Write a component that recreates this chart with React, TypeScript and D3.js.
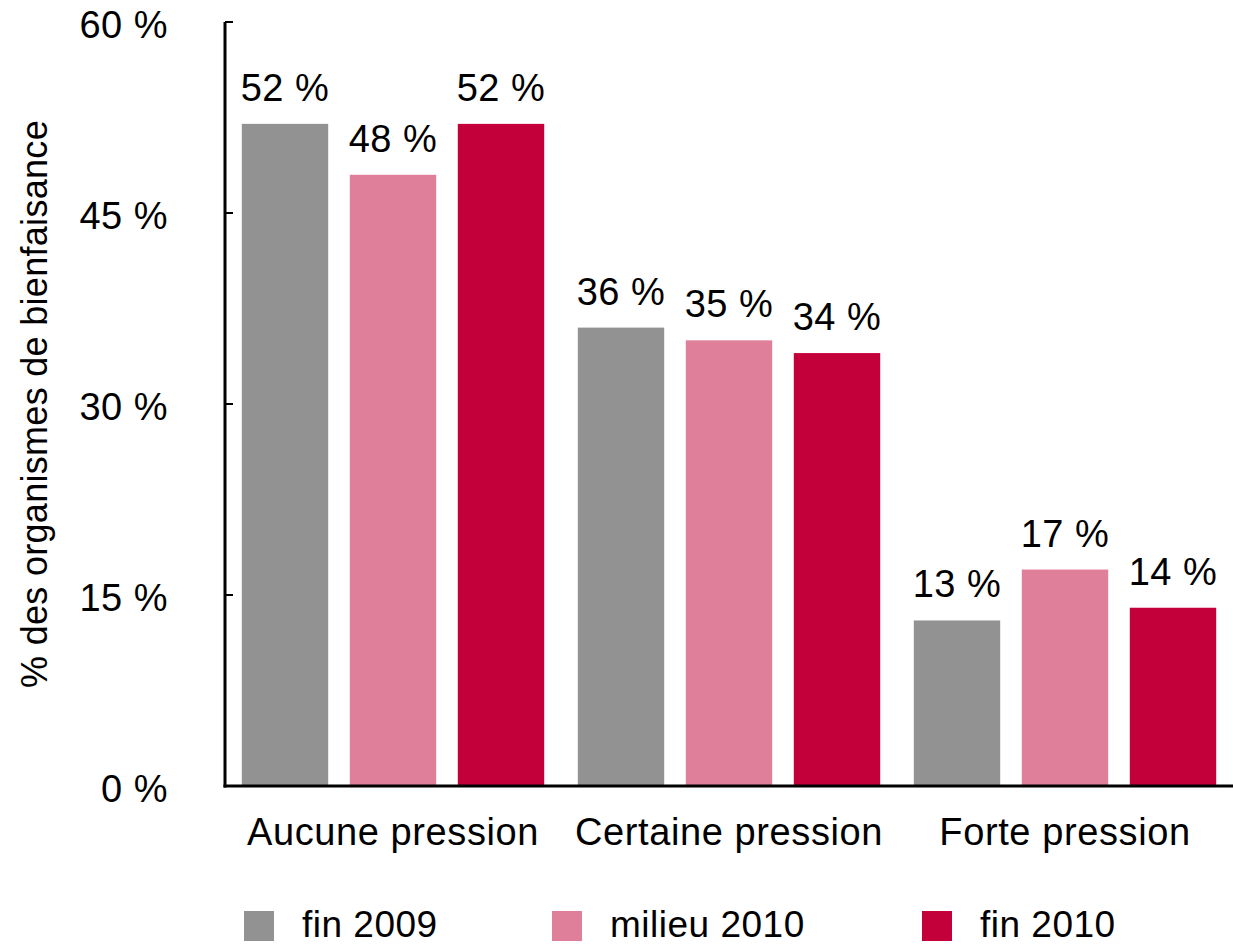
import { useEffect, useRef } from "react"
import * as d3 from "d3"

const categories = ["Aucune pression", "Certaine pression", "Forte pression"]
const seriesNames = ["fin 2009", "milieu 2010", "fin 2010"]
const seriesColors = ["#929292", "#e07f9a", "#c4003b"]
const fin2009 = [52, 36, 13]
const milieu2010 = [48, 35, 17]
const fin2010 = [52, 34, 14]
const yTicks = [0, 15, 30, 45, 60]
const yLabel = "% des organismes de bienfaisance"

const W = 1233
const H = 945
const FONT = "'Liberation Sans', Arial, Helvetica, sans-serif"

export default function App() {
  const ref = useRef<SVGSVGElement>(null)

  useEffect(() => {
    const el = ref.current
    if (!el) return
    const svg = d3.select(el)
    svg.selectAll("*").remove()

    const left = 225
    const right = 1233
    const top = 22
    const bottom = 786
    const values = [fin2009, milieu2010, fin2010]

    const x0 = d3.scaleBand<string>().domain(categories).range([left, right]).paddingInner(0.1).paddingOuter(0.05)
    const x1 = d3.scaleBand<string>().domain(seriesNames).range([0, x0.bandwidth()]).paddingInner(0.2)
    const y = d3.scaleLinear().domain([0, 60]).range([bottom, top])

    const g = svg.append("g").attr("font-family", FONT).attr("fill", "#000")

    // bars + value labels
    categories.forEach((cat, ci) => {
      seriesNames.forEach((s, si) => {
        const v = values[si][ci]
        const bx = (x0(cat) || 0) + (x1(s) || 0)
        g.append("rect")
          .attr("x", bx)
          .attr("y", y(v))
          .attr("width", x1.bandwidth())
          .attr("height", bottom - y(v))
          .attr("fill", seriesColors[si])
        g.append("text")
          .attr("x", bx + x1.bandwidth() / 2)
          .attr("y", y(v) - 23)
          .attr("text-anchor", "middle")
          .attr("font-size", 38)
          .attr("letter-spacing", 0.5)
          .text(`${v} %`)
      })
      g.append("text")
        .attr("x", (x0(cat) || 0) + x0.bandwidth() / 2)
        .attr("y", 845)
        .attr("text-anchor", "middle")
        .attr("font-size", 38)
        .attr("letter-spacing", 0.6)
        .text(cat)
    })

    // axes
    g.append("line")
      .attr("x1", left).attr("x2", left)
      .attr("y1", top).attr("y2", bottom + 1.5)
      .attr("stroke", "#000").attr("stroke-width", 3)
    g.append("line")
      .attr("x1", left - 1.5).attr("x2", right)
      .attr("y1", bottom).attr("y2", bottom)
      .attr("stroke", "#000").attr("stroke-width", 3)

    yTicks.forEach((t) => {
      if (t > 0) {
        g.append("line")
          .attr("x1", left).attr("x2", left + 8)
          .attr("y1", y(t)).attr("y2", y(t))
          .attr("stroke", "#000").attr("stroke-width", 2)
      }
      g.append("text")
        .attr("x", 168)
        .attr("y", y(t) + 16)
        .attr("text-anchor", "end")
        .attr("font-size", 38)
        .attr("letter-spacing", 0.5)
        .text(`${t} %`)
    })

    g.append("text")
      .attr("transform", `translate(47,${(top + bottom) / 2}) rotate(-90)`)
      .attr("text-anchor", "middle")
      .attr("font-size", 36)
      .attr("letter-spacing", 0.3)
      .text(yLabel)

    // legend
    const legendX = [244, 552, 922]
    seriesNames.forEach((s, i) => {
      g.append("rect")
        .attr("x", legendX[i])
        .attr("y", 911)
        .attr("width", 30)
        .attr("height", 30)
        .attr("fill", seriesColors[i])
      g.append("text")
        .attr("x", legendX[i] + 58)
        .attr("y", 937)
        .attr("font-size", 37)
        .attr("letter-spacing", 0.5)
        .text(s)
    })
  }, [])

  return (
    <svg
      ref={ref}
      width={W}
      height={H}
      style={{ position: "absolute", left: 0, top: 0, background: "#fff" }}
    />
  )
}
